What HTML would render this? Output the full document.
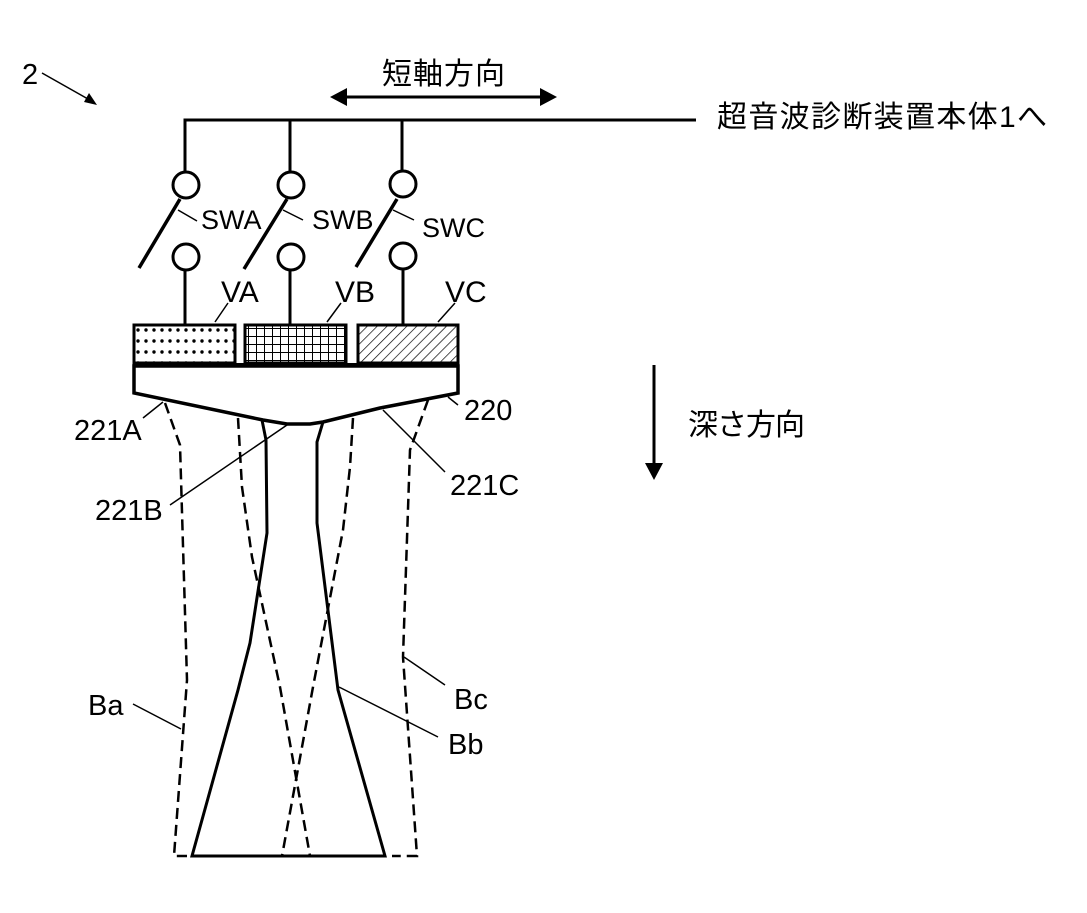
<!DOCTYPE html>
<html><head><meta charset="utf-8"><style>
html,body{margin:0;padding:0;background:#fff}
svg{display:block}
text{font-family:"Liberation Sans","Noto Sans CJK JP",sans-serif;font-size:29px;fill:#000}
.c{font-size:30px}
.s{font-size:27px}
</style></head><body>
<svg width="1087" height="913" viewBox="0 0 1087 913" xmlns="http://www.w3.org/2000/svg">
<defs>
<pattern id="dots" x="134" y="325" width="8" height="11" patternUnits="userSpaceOnUse"><circle cx="4" cy="5" r="1.7" fill="#000"/></pattern>
<pattern id="grid" width="8" height="8" patternUnits="userSpaceOnUse"><path d="M0 .5H8M.5 0V8" stroke="#000" stroke-width="1" fill="none"/></pattern>
<pattern id="hatch" width="7" height="7" patternUnits="userSpaceOnUse" patternTransform="rotate(45)"><path d="M0 0V7" stroke="#000" stroke-width="1.4"/></pattern>
</defs>
<g fill="none" stroke="#000">
<!-- bus -->
<path d="M185 173V120H696M290 120V173M402 120V171" stroke-width="3"/>
<g stroke-width="3"><circle cx="186" cy="185" r="13"/><circle cx="291" cy="185" r="13"/><circle cx="403" cy="184" r="13"/>
<circle cx="186" cy="257" r="13"/><circle cx="291" cy="257" r="13"/><circle cx="403" cy="256" r="13"/>
<path d="M185 270V325M290 270V325M403 269V325"/></g>
<path d="M180 199L139 268M287 199L244 269M397 199L356 267" stroke-width="3.5"/>
<path d="M178 210L197 221M283 210L303 220M393 210L414 220M143 418L163 402M215 322L228 303M327 322L341 303M438 322L455 303M448 397L458 405M383 410L445 472M287 425L170 505M133 704L181 729M339 687L438 737M404 657L445 685" stroke-width="1.5"/>
<!-- elements -->
<rect x="134" y="325" width="101" height="38" fill="url(#dots)" stroke-width="3"/>
<rect x="245" y="325" width="101" height="38" fill="url(#grid)" stroke-width="3"/>
<rect x="358" y="325" width="100" height="38" fill="url(#hatch)" stroke-width="3"/>
<path d="M134 366H458V393L380 408L323 422L310 424H287L263 420L134 393Z" fill="#fff" stroke-width="3.5"/>
<path d="M134 365H458" stroke-width="4"/>
<!-- beams solid -->
<path d="M262 420L266 440L267 533L250 643L238 690L192 856H385L338 690L317 523V442L323 422" stroke-width="3"/>
<!-- beams dashed -->
<g stroke-width="2.5" stroke-dasharray="11 6">
<path d="M165 403L180 445L187 680L174 856H187"/>
<path d="M428 400L410 450L403 657L417 856H392"/>
<path d="M238 418L242 487L252 557L280 687L310 856"/>
<path d="M353 418L350 467L343 530L313 687L282 856"/>
</g>
<!-- arrows -->
<path d="M42 73L88 99" stroke-width="1.5"/>
<path d="M342 97H544" stroke-width="3"/>
<path d="M654 365V465" stroke-width="3"/>
</g>
<path d="M97 105L84 102L89 93Z"/>
<path d="M330 97L347 88V106ZM557 97L540 88V106ZM654 480L645 463H663Z"/>
<text x="22" y="84">2</text>
<text class="c" x="382" y="84" textLength="123">短軸方向</text>
<text class="c" x="717" y="127" textLength="330">超音波診断装置本体1へ</text>
<text class="c" x="688" y="435" textLength="117">深さ方向</text>
<text class="s" x="201" y="229">SWA</text>
<text class="s" x="312" y="229">SWB</text>
<text class="s" x="422" y="237">SWC</text>
<text class="c" x="221" y="302">VA</text>
<text class="c" x="335" y="302">VB</text>
<text class="c" x="445" y="302">VC</text>
<text x="464" y="420">220</text>
<text x="74" y="440">221A</text>
<text x="450" y="495">221C</text>
<text x="95" y="520">221B</text>
<text x="88" y="715">Ba</text>
<text x="454" y="709">Bc</text>
<text x="448" y="754">Bb</text>
</svg>
</body></html>
